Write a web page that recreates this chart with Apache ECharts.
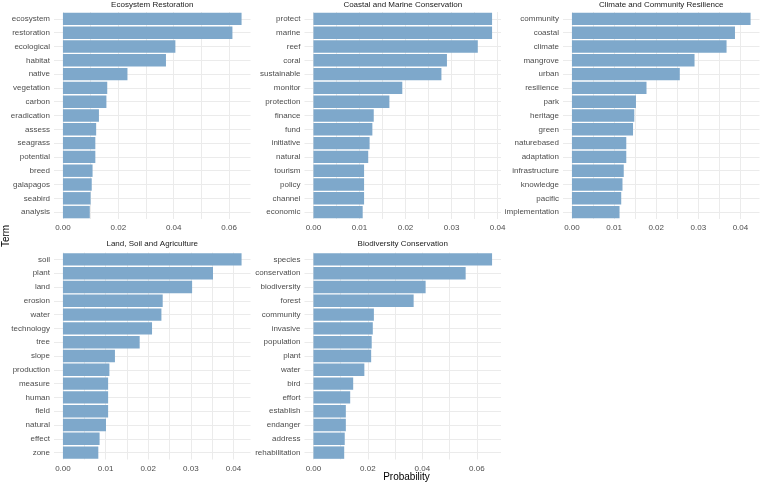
<!DOCTYPE html>
<html>
<head>
<meta charset="utf-8">
<script src="https://cdn.jsdelivr.net/npm/echarts@6/dist/echarts.min.js"></script>
<style>
  html, body { margin: 0; padding: 0; background: #fff; }
  #chart { width: 760px; height: 484px; }
</style>
</head>
<body>
<div id="chart"></div>
<script>
var titles = ['Ecosystem Restoration', 'Coastal and Marine Conservation', 'Climate and Community Resilience',
              'Land, Soil and Agriculture', 'Biodiversity Conservation'];

var terms1 = ['ecosystem', 'restoration', 'ecological', 'habitat', 'native', 'vegetation', 'carbon', 'eradication',
              'assess', 'seagrass', 'potential', 'breed', 'galapagos', 'seabird', 'analysis'];
var probs1 = [0.0645, 0.0612, 0.0406, 0.0372, 0.0233, 0.0160, 0.0157, 0.0130,
              0.0120, 0.0117, 0.0117, 0.0107, 0.0104, 0.0100, 0.0097];

var terms2 = ['protect', 'marine', 'reef', 'coral', 'sustainable', 'monitor', 'protection', 'finance',
              'fund', 'initiative', 'natural', 'tourism', 'policy', 'channel', 'economic'];
var probs2 = [0.0388, 0.0388, 0.0357, 0.0290, 0.0278, 0.0193, 0.0165, 0.0131,
              0.0128, 0.0122, 0.0119, 0.0110, 0.0110, 0.0110, 0.0107];

var terms3 = ['community', 'coastal', 'climate', 'mangrove', 'urban', 'resilience', 'park', 'heritage',
              'green', 'naturebased', 'adaptation', 'infrastructure', 'knowledge', 'pacific', 'implementation'];
var probs3 = [0.0424, 0.0387, 0.0367, 0.0291, 0.0256, 0.0177, 0.0152, 0.0148,
              0.0145, 0.0129, 0.0129, 0.0123, 0.0120, 0.0117, 0.0113];

var terms4 = ['soil', 'plant', 'land', 'erosion', 'water', 'technology', 'tree', 'slope',
              'production', 'measure', 'human', 'field', 'natural', 'effect', 'zone'];
var probs4 = [0.0419, 0.0352, 0.0303, 0.0234, 0.0231, 0.0209, 0.0180, 0.0122,
              0.0109, 0.0106, 0.0106, 0.0106, 0.0101, 0.0086, 0.0083];

var terms5 = ['species', 'conservation', 'biodiversity', 'forest', 'community', 'invasive', 'population', 'plant',
              'water', 'bird', 'effort', 'establish', 'endanger', 'address', 'rehabilitation'];
var probs5 = [0.0656, 0.0559, 0.0412, 0.0368, 0.0222, 0.0218, 0.0214, 0.0212,
              0.0187, 0.0146, 0.0135, 0.0119, 0.0119, 0.0115, 0.0113];

// labelled breaks and all grid lines (major + minor) per panel
var ticks1 = [0, 0.02, 0.04, 0.06];
var ticks2 = [0, 0.01, 0.02, 0.03, 0.04];
var ticks3 = [0, 0.01, 0.02, 0.03, 0.04];
var ticks4 = [0, 0.01, 0.02, 0.03, 0.04];
var ticks5 = [0, 0.02, 0.04, 0.06];
var lines1 = [0, 0.01, 0.02, 0.03, 0.04, 0.05, 0.06];
var lines2 = [0, 0.005, 0.01, 0.015, 0.02, 0.025, 0.03, 0.035, 0.04];
var lines3 = [0, 0.005, 0.01, 0.015, 0.02, 0.025, 0.03, 0.035, 0.04];
var lines4 = [0, 0.005, 0.01, 0.015, 0.02, 0.025, 0.03, 0.035, 0.04];
var lines5 = [0, 0.01, 0.02, 0.03, 0.04, 0.05, 0.06];

var panels = [
  { terms: terms1, probs: probs1, ticks: ticks1, lines: lines1 },
  { terms: terms2, probs: probs2, ticks: ticks2, lines: lines2 },
  { terms: terms3, probs: probs3, ticks: ticks3, lines: lines3 },
  { terms: terms4, probs: probs4, ticks: ticks4, lines: lines4 },
  { terms: terms5, probs: probs5, ticks: ticks5, lines: lines5 }
];

var colLeft = [54, 304.5, 563];
var rowTop = [12, 252.5];
var panelW = 196.5, panelH = 207;
var gridColor = '#ebebeb';
var labelColor = '#4d4d4d';

var grids = [], xAxes = [], yAxes = [], series = [], titleList = [];

panels.forEach(function (p, i) {
  var col = i % 3, row = Math.floor(i / 3);
  var top = Math.max.apply(null, p.probs);
  grids.push({
    left: colLeft[col], top: rowTop[row], width: panelW, height: panelH,
    containLabel: false, outerBoundsMode: 'none'
  });
  xAxes.push({
    type: 'value', gridIndex: i,
    min: -0.05 * top, max: 1.05 * top,
    axisLine: { show: false },
    axisTick: { show: false, customValues: p.lines },
    axisLabel: {
      customValues: p.ticks, color: labelColor, fontSize: 8, margin: 5,
      fontFamily: 'Liberation Sans, Arial, sans-serif',
      formatter: function (v) { return v.toFixed(2); }
    },
    splitLine: { show: true, lineStyle: { color: gridColor, width: 1 } }
  });
  yAxes.push({
    type: 'category', gridIndex: i, inverse: true, data: p.terms,
    axisLine: { show: false },
    axisTick: { show: false, alignWithLabel: true },
    axisLabel: {
      interval: 0, color: labelColor, fontSize: 8, margin: 4,
      fontFamily: 'Liberation Sans, Arial, sans-serif'
    },
    // grid lines through the bar centres, as ggplot draws them
    splitLine: { show: true, alignWithLabel: true, interval: 0, lineStyle: { color: gridColor, width: 1 } }
  });
  series.push({
    type: 'bar', xAxisIndex: i, yAxisIndex: i, data: p.probs,
    barCategoryGap: '10%',
    itemStyle: { color: '#7ea8cb' },
    silent: true
  });
  titleList.push({
    text: titles[i],
    left: colLeft[col] + panelW / 2, top: row === 0 ? 1 : 240,
    textAlign: 'center',
    textStyle: { fontSize: 8, fontWeight: 'normal', color: '#1a1a1a',
                 fontFamily: 'Liberation Sans, Arial, sans-serif' },
    padding: 0
  });
});

var chart = echarts.init(document.getElementById('chart'));
chart.setOption({
  animation: false,
  backgroundColor: '#ffffff',
  title: titleList,
  grid: grids,
  xAxis: xAxes,
  yAxis: yAxes,
  series: series,
  graphic: [
    {
      type: 'text', x: 6, y: 236, rotation: Math.PI / 2,
      style: { text: 'Term', fill: '#000', align: 'center', verticalAlign: 'middle',
               font: '10px Liberation Sans, Arial, sans-serif' }
    },
    {
      type: 'text', x: 406.5, y: 477,
      style: { text: 'Probability', fill: '#000', align: 'center', verticalAlign: 'middle',
               font: '10px Liberation Sans, Arial, sans-serif' }
    }
  ]
});
</script>
</body>
</html>
